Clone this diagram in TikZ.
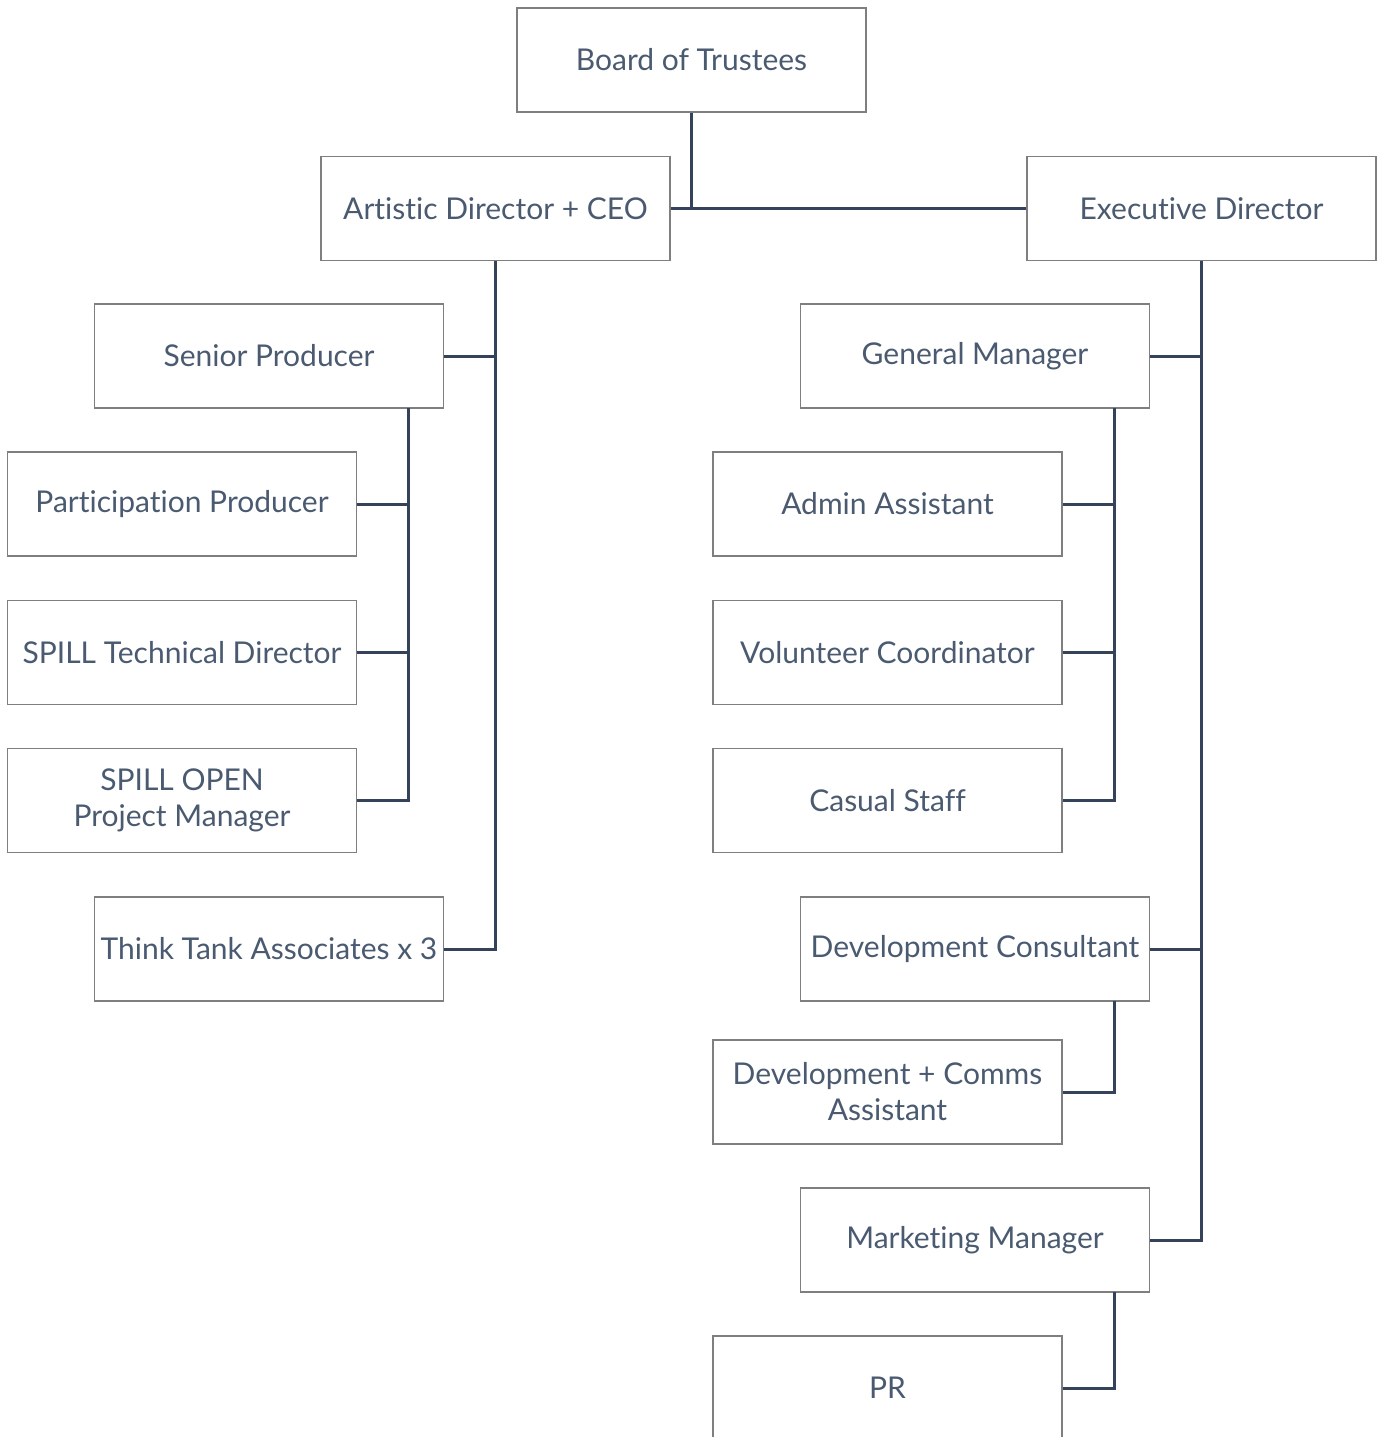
\documentclass[tikz,border=0pt]{standalone}
\usepackage{fontspec}
\setmainfont{Lato}[RawFeature={-liga;-clig;-dlig}]
\definecolor{txt}{HTML}{4A5A70}
\definecolor{edge}{HTML}{34435A}
\definecolor{boxline}{HTML}{7F7F7F}
\begin{document}
\begin{tikzpicture}[x=1pt,y=-1pt,
  role/.style={draw=boxline,line width=1.2pt,fill=white,minimum width=349pt,minimum height=104pt,inner sep=0pt,
    text=txt,font=\fontsize{30}{36}\selectfont,align=center},
  link/.style={draw=edge,line width=3pt}]
\useasboundingbox (0,0) rectangle (1388,1437);
\clip (0,0) rectangle (1388,1437);
\fill[white] (0,0) rectangle (1388,1437);
% nodes
\node[role] (board) at (691.5,60) {Board of Trustees};
\node[role] (ad) at (495.5,208.5) {Artistic Director + CEO};
\node[role] (ed) at (1201.5,208.5) {Executive Director};
\node[role] (sp) at (269,356) {Senior Producer};
\node[role] (pp) at (182,504) {Participation Producer};
\node[role] (std) at (182,652.5) {SPILL Technical Director};
\node[role] (spo) at (182,800.5) {SPILL OPEN\\Project Manager};
\node[role] (tt) at (269,949) {Think Tank Associates x 3};
\node[role] (gm) at (975,356) {General Manager};
\node[role] (aa) at (887.5,504) {Admin Assistant};
\node[role] (vc) at (887.5,652.5) {Volunteer Coordinator};
\node[role] (cs) at (887.5,800.5) {Casual Staff};
\node[role] (dc) at (975,949) {Development Consultant};
\node[role] (dca) at (887.5,1092) {Development + Comms\\Assistant};
\node[role] (mm) at (975,1240) {Marketing Manager};
\node[role] (pr) at (887.5,1388) {PR};
% branch points
\coordinate (spv) at (408,408);
\coordinate (gmv) at (1114,408);
\coordinate (dcv) at (1114,1001);
\coordinate (mmv) at (1114,1292);
% connectors
\draw[link] (ad.east) -- (ed.west);
\draw[link] (board.south) -- (board.south |- ad.east);
\draw[link] (ad.south) |- (tt.east);
\draw[link] (sp.east) -- (sp.east -| ad.south);
\draw[link] (spv) |- (spo.east);
\draw[link] (pp.east) -- (pp.east -| spv);
\draw[link] (std.east) -- (std.east -| spv);
\draw[link] (ed.south) |- (mm.east);
\draw[link] (gm.east) -- (gm.east -| ed.south);
\draw[link] (dc.east) -- (dc.east -| ed.south);
\draw[link] (gmv) |- (cs.east);
\draw[link] (aa.east) -- (aa.east -| gmv);
\draw[link] (vc.east) -- (vc.east -| gmv);
\draw[link] (dcv) |- (dca.east);
\draw[link] (mmv) |- (pr.east);
\end{tikzpicture}
\end{document}
